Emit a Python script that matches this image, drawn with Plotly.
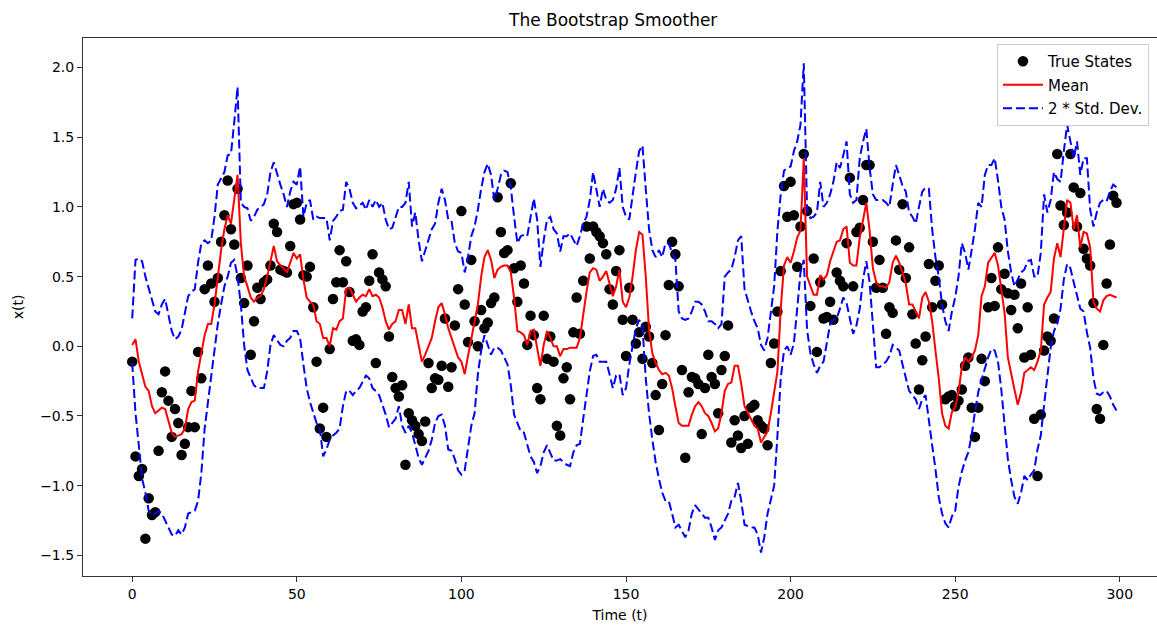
import plotly.graph_objects as go

# ---------------- data ----------------
time_steps = list(range(300))

true_states = [
    -0.11, -0.79, -0.93, -0.88, -1.38, -1.09, -1.21, -1.19, -0.75, -0.33,
    -0.18, -0.39, -0.65, -0.45, -0.55, -0.78, -0.70, -0.58, -0.32, -0.58,
    -0.04, -0.23, 0.41, 0.58, 0.45, 0.32, 0.49, 0.75, 0.94, 1.19,
    0.84, 0.73, 1.13, 0.49, 0.31, 0.58, -0.06, 0.18, 0.42, 0.34,
    0.46, 0.48, 0.58, 0.88, 0.82, 0.55, 0.54, 0.53, 0.72, 1.02,
    1.03, 0.91, 0.51, 0.50, 0.57, 0.28, -0.11, -0.59, -0.44, -0.65,
    -0.02, 0.34, 0.46, 0.69, 0.46, 0.61, 0.39, 0.04, 0.05, 0.01,
    0.25, 0.28, 0.47, 0.66, -0.12, 0.53, 0.48, 0.43, 0.07, -0.22,
    -0.30, -0.36, -0.28, -0.85, -0.48, -0.53, -0.57, -0.63, -0.68, -0.54,
    -0.12, -0.30, -0.23, -0.24, -0.14, 0.20, -0.29, -0.15, 0.15, 0.41,
    0.97, 0.30, 0.03, 0.62, 0.18, 0.00, 0.26, 0.13, 0.17, 0.31,
    0.35, 1.07, 0.82, 0.67, 0.69, 1.17, 0.56, 0.32, 0.58, 0.45,
    0.01, 0.22, 0.08, -0.30, -0.38, 0.22, -0.09, 0.07, -0.11, -0.57,
    -0.64, -0.23, -0.15, -0.38, 0.10, 0.35, 0.09, 0.47, 0.86, 0.63,
    0.86, 0.82, 0.79, 0.74, 0.66, 0.41, 0.30, 0.54, 0.69, 0.19,
    -0.07, 0.42, 0.19, 0.02, 0.10, -0.09, 0.14, 0.07, -0.12, -0.35,
    -0.60, -0.27, 0.08, 0.44, 0.75, 0.66, 0.43, -0.17, -0.80, -0.33,
    -0.22, -0.23, -0.27, -0.63, -0.30, -0.06, -0.22, -0.27, -0.48, -0.17,
    -0.07, 0.15, -0.69, -0.53, -0.64, -0.73, -0.50, -0.70, -0.44, -0.42,
    -0.53, -0.57, -0.59, -0.71, -0.12, 0.02, 0.25, 0.54, 1.15, 0.93,
    1.18, 0.94, 0.57, 0.86, 1.38, 0.97, 0.29, 0.63, -0.04, 0.46,
    0.20, 0.21, 0.32, 0.19, 0.53, 0.47, 0.43, 0.74, 1.21, 0.43,
    0.82, 0.85, 1.05, 1.30, 1.30, 0.75, 0.42, 0.62, 0.42, 0.09,
    0.28, 0.24, 0.76, 0.55, 1.02, 0.49, 0.71, 0.23, 0.02, -0.31,
    -0.10, 0.07, 0.59, 0.28, 0.47, 0.58, 0.30, -0.38, -0.36, -0.35,
    -0.43, -0.39, -0.31, -0.14, -0.08, -0.44, -0.65, -0.44, -0.09, -0.25,
    0.28, 0.49, 0.29, 0.71, 0.41, 0.52, 0.38, 0.26, 0.37, 0.13,
    0.45, -0.08, 0.28, -0.06, -0.52, -0.93, -0.49, -0.03, 0.07, 0.04,
    0.20, 1.38, 1.01, 0.87, 0.96, 1.38, 1.14, 0.86, 1.10, 0.70,
    0.63, 0.58, 0.31, -0.45, -0.52, 0.01, 0.45, 0.73, 1.08, 1.03,
]

mean_estimate = [
    0.01, 0.05, -0.11, -0.20, -0.29, -0.32, -0.43, -0.48, -0.46, -0.44,
    -0.45, -0.53, -0.62, -0.65, -0.64, -0.63, -0.59, -0.45, -0.40, -0.39,
    -0.18, -0.06, 0.08, 0.16, 0.16, 0.30, 0.50, 0.69, 0.84, 0.94,
    0.88, 1.07, 1.23, 0.74, 0.50, 0.43, 0.35, 0.32, 0.35, 0.36,
    0.41, 0.50, 0.60, 0.72, 0.61, 0.58, 0.56, 0.53, 0.60, 0.67,
    0.63, 0.66, 0.48, 0.35, 0.32, 0.30, 0.18, 0.16, 0.06, 0.06,
    0.00, 0.13, 0.12, 0.18, 0.20, 0.41, 0.42, 0.37, 0.32, 0.35,
    0.37, 0.36, 0.41, 0.36, 0.37, 0.35, 0.28, 0.18, 0.12, 0.16,
    0.18, 0.26, 0.26, 0.16, 0.30, 0.13, 0.13, 0.01, -0.11, -0.06,
    0.00, 0.06, 0.18, 0.28, 0.31, 0.23, 0.13, 0.06, 0.00, -0.08,
    -0.11, -0.20, -0.07, 0.06, 0.16, 0.30, 0.50, 0.64, 0.69, 0.62,
    0.49, 0.55, 0.57, 0.58, 0.58, 0.53, 0.35, 0.11, 0.10, 0.08,
    0.01, 0.11, 0.12, 0.00, -0.14, 0.01, 0.11, 0.06, 0.00, 0.00,
    -0.07, -0.02, -0.02, -0.01, -0.01, -0.01, 0.06, 0.23, 0.39, 0.53,
    0.56, 0.55, 0.47, 0.50, 0.54, 0.45, 0.36, 0.43, 0.55, 0.32,
    0.28, 0.35, 0.50, 0.69, 0.82, 0.80, 0.50, 0.12, -0.05, -0.12,
    -0.17, -0.20, -0.19, -0.21, -0.30, -0.43, -0.55, -0.57, -0.57, -0.57,
    -0.49, -0.43, -0.40, -0.43, -0.48, -0.50, -0.55, -0.61, -0.59, -0.48,
    -0.32, -0.27, -0.26, -0.14, -0.14, -0.27, -0.43, -0.48, -0.52, -0.57,
    -0.59, -0.69, -0.65, -0.61, -0.48, -0.33, -0.18, 0.27, 0.58, 0.64,
    0.60, 0.68, 0.78, 0.83, 1.35, 0.50, 0.44, 0.37, 0.37, 0.51,
    0.48, 0.51, 0.61, 0.68, 0.75, 0.76, 0.84, 0.86, 0.60, 0.58,
    0.58, 0.78, 0.91, 1.03, 0.83, 0.56, 0.46, 0.43, 0.43, 0.42,
    0.46, 0.60, 0.65, 0.60, 0.53, 0.45, 0.30, 0.30, 0.25, 0.20,
    0.35, 0.39, 0.32, 0.18, -0.03, -0.23, -0.48, -0.57, -0.59, -0.47,
    -0.44, -0.33, -0.15, -0.08, -0.11, -0.08, -0.03, 0.08, 0.36, 0.43,
    0.60, 0.64, 0.67, 0.58, 0.40, 0.24, -0.08, -0.21, -0.31, -0.42,
    -0.33, -0.19, -0.17, -0.15, -0.17, -0.11, -0.03, 0.30, 0.35, 0.39,
    0.63, 0.74, 0.64, 0.84, 1.05, 1.03, 0.84, 0.94, 0.71, 0.82,
    0.81, 0.71, 0.32, 0.27, 0.25, 0.33, 0.36, 0.37, 0.36, 0.35,
]

upper_band = [
    0.20, 0.62, 0.63, 0.61, 0.50, 0.41, 0.32, 0.25, 0.23, 0.30,
    0.34, 0.23, 0.11, 0.05, 0.07, 0.12, 0.25, 0.36, 0.39, 0.41,
    0.60, 0.74, 0.76, 0.74, 0.76, 0.93, 1.16, 1.20, 1.25, 1.37,
    1.38, 1.61, 1.86, 1.03, 1.00, 0.99, 0.90, 0.93, 0.98, 1.00,
    1.02, 1.09, 1.25, 1.32, 1.23, 1.16, 1.09, 1.00, 1.11, 1.18,
    1.16, 1.29, 0.93, 1.03, 1.05, 0.91, 0.93, 0.92, 0.92, 0.92,
    0.76, 0.90, 0.93, 0.97, 0.98, 1.18, 1.13, 1.03, 0.99, 1.01,
    1.03, 0.98, 1.05, 1.00, 1.05, 1.00, 1.03, 0.91, 0.84, 0.85,
    0.93, 1.00, 1.00, 1.03, 1.18, 0.86, 0.96, 0.76, 0.61, 0.69,
    0.76, 0.84, 0.88, 1.03, 1.13, 1.05, 0.91, 0.90, 0.74, 0.68,
    0.67, 0.53, 0.64, 0.79, 0.86, 0.98, 1.13, 1.25, 1.31, 1.23,
    1.05, 1.13, 1.23, 1.26, 1.25, 1.14, 0.93, 0.74, 0.79, 0.80,
    0.79, 0.93, 1.06, 0.91, 0.57, 0.76, 0.91, 0.93, 0.84, 0.81,
    0.68, 0.79, 0.79, 0.81, 0.76, 0.72, 0.79, 0.88, 0.93, 1.05,
    1.25, 1.13, 1.00, 1.13, 1.05, 1.03, 1.05, 1.13, 1.28, 1.00,
    0.93, 0.91, 1.09, 1.25, 1.40, 1.44, 1.13, 0.84, 0.69, 0.64,
    0.69, 0.64, 0.74, 0.74, 0.67, 0.62, 0.25, 0.20, 0.19, 0.20,
    0.25, 0.32, 0.32, 0.30, 0.25, 0.18, 0.18, 0.16, 0.13, 0.16,
    0.50, 0.53, 0.55, 0.64, 0.76, 0.79, 0.41, 0.32, 0.25, 0.18,
    0.13, 0.01, -0.03, 0.06, 0.25, 0.43, 0.83, 1.09, 1.26, 1.28,
    1.29, 1.40, 1.47, 1.59, 2.03, 0.98, 0.92, 0.93, 0.96, 1.18,
    1.00, 1.03, 1.09, 1.18, 1.32, 1.28, 1.37, 1.47, 1.09, 1.03,
    1.05, 1.35, 1.47, 1.56, 1.28, 1.09, 1.05, 1.05, 1.05, 1.03,
    1.00, 1.16, 1.30, 1.23, 1.15, 1.11, 0.96, 0.93, 0.88, 1.00,
    1.11, 1.14, 1.13, 0.84, 0.64, 0.50, 0.30, 0.18, 0.11, 0.25,
    0.35, 0.50, 0.74, 0.67, 0.55, 0.69, 0.84, 1.03, 1.00, 1.23,
    1.30, 1.30, 1.35, 1.19, 1.00, 0.91, 0.68, 0.53, 0.43, 0.48,
    0.53, 0.55, 0.61, 0.62, 0.50, 0.50, 0.67, 1.09, 0.96, 1.05,
    1.25, 1.20, 1.18, 1.40, 1.59, 1.47, 1.35, 1.47, 1.23, 1.35,
    1.35, 0.98, 0.86, 0.96, 1.03, 1.05, 1.04, 1.11, 1.16, 1.14,
]

lower_band = [
    -0.12, -0.48, -0.71, -0.95, -1.05, -1.18, -1.21, -1.20, -1.18, -1.20,
    -1.25, -1.30, -1.35, -1.36, -1.32, -1.35, -1.30, -1.20, -1.19, -1.18,
    -1.11, -0.91, -0.59, -0.40, -0.20, -0.01, 0.16, 0.30, 0.43, 0.50,
    0.60, 0.62, 0.50, 0.30, 0.01, -0.17, -0.22, -0.28, -0.30, -0.30,
    -0.30, -0.18, 0.01, 0.08, 0.04, 0.01, 0.00, 0.04, 0.06, 0.11,
    0.11, 0.06, -0.13, -0.30, -0.40, -0.48, -0.55, -0.59, -0.79, -0.74,
    -0.67, -0.64, -0.62, -0.59, -0.43, -0.32, -0.32, -0.35, -0.32, -0.30,
    -0.25, -0.21, -0.23, -0.30, -0.32, -0.35, -0.42, -0.49, -0.58, -0.55,
    -0.52, -0.43, -0.57, -0.62, -0.57, -0.62, -0.71, -0.80, -0.85, -0.80,
    -0.75, -0.67, -0.55, -0.50, -0.49, -0.57, -0.74, -0.75, -0.81, -0.89,
    -0.92, -0.89, -0.71, -0.57, -0.48, -0.20, -0.03, 0.08, 0.01, -0.06,
    -0.01, -0.01, -0.03, -0.08, -0.13, -0.28, -0.49, -0.55, -0.61, -0.62,
    -0.71, -0.79, -0.83, -0.91, -0.86, -0.76, -0.71, -0.77, -0.82, -0.82,
    -0.81, -0.83, -0.85, -0.86, -0.76, -0.71, -0.70, -0.52, -0.35, -0.18,
    -0.07, -0.06, -0.11, -0.11, -0.11, -0.20, -0.30, -0.21, -0.20, -0.35,
    -0.30, -0.13, 0.01, 0.13, 0.19, 0.14, -0.23, -0.48, -0.67, -0.83,
    -0.95, -1.05, -1.11, -1.11, -1.20, -1.30, -1.28, -1.32, -1.37, -1.32,
    -1.20, -1.14, -1.17, -1.20, -1.23, -1.23, -1.30, -1.39, -1.32, -1.30,
    -1.25, -1.20, -1.11, -1.08, -0.98, -1.11, -1.28, -1.29, -1.30, -1.30,
    -1.35, -1.48, -1.37, -1.20, -1.10, -1.00, -0.64, -0.23, -0.03, 0.00,
    -0.06, 0.02, 0.27, 0.53, 0.62, 0.12, -0.05, -0.13, -0.19, -0.14,
    -0.11, 0.04, 0.16, 0.19, 0.20, 0.27, 0.35, 0.31, 0.20, 0.09,
    0.15, 0.27, 0.48, 0.61, 0.46, 0.12, -0.15, -0.15, -0.13, -0.11,
    -0.07, 0.01, -0.01, -0.03, -0.13, -0.23, -0.32, -0.35, -0.38, -0.45,
    -0.38, -0.35, -0.55, -0.71, -0.88, -1.08, -1.20, -1.27, -1.30, -1.22,
    -1.18, -1.01, -0.90, -0.82, -0.76, -0.64, -0.47, -0.33, -0.24, -0.15,
    -0.08, -0.02, -0.03, -0.11, -0.31, -0.56, -0.81, -0.96, -1.08, -1.13,
    -1.05, -0.93, -0.96, -0.92, -0.89, -0.74, -0.64, -0.42, -0.21, -0.01,
    0.11, 0.16, 0.27, 0.48, 0.59, 0.56, 0.46, 0.37, 0.27, 0.25,
    0.10, -0.01, -0.23, -0.34, -0.35, -0.33, -0.32, -0.36, -0.42, -0.46,
]

x_tick_values = [0, 50, 100, 150, 200, 250, 300]
y_tick_values = [-1.5, -1.0, -0.5, 0.0, 0.5, 1.0, 1.5, 2.0]
y_tick_labels = ["\u22121.5", "\u22121.0", "\u22120.5", "0.0", "0.5", "1.0", "1.5", "2.0"]

# ---------------- figure ----------------
FONT = "DejaVu Sans"
fig = go.Figure()

fig.add_trace(go.Scatter(
    x=time_steps, y=true_states, mode="markers", name="True States",
    marker=dict(color="black", size=10.5, line=dict(width=0)),
))
fig.add_trace(go.Scatter(
    x=time_steps, y=mean_estimate, mode="lines", name="Mean",
    line=dict(color="#ff0000", width=2),
))
fig.add_trace(go.Scatter(
    x=time_steps, y=upper_band, mode="lines", name="2 * Std. Dev.",
    legendgroup="std", line=dict(color="#0000ff", width=2, dash="9px,4px"),
))
fig.add_trace(go.Scatter(
    x=time_steps, y=lower_band, mode="lines", name="2 * Std. Dev.",
    legendgroup="std", showlegend=False,
    line=dict(color="#0000ff", width=2, dash="9px,4px"),
))

axis_common = dict(
    showgrid=False, zeroline=False, showline=True, linecolor="#333333",
    linewidth=1.1, ticks="outside", ticklen=5, tickwidth=1.1, tickcolor="#333333",
    tickfont=dict(family=FONT, size=14, color="black"),
)

fig.update_layout(
    width=1157, height=626,
    margin=dict(l=83, r=0, t=38, b=50),
    paper_bgcolor="white", plot_bgcolor="white",
    font=dict(family=FONT, color="black"),
    title=dict(
        text="The Bootstrap Smoother", font=dict(family=FONT, size=17, color="black"),
        x=0.53, xref="container", xanchor="center",
        y=1 - 20 / 626, yref="container", yanchor="middle",
    ),
    xaxis=dict(
        **axis_common, range=[-14.95, 311.3], tickvals=x_tick_values,
        mirror=True,
        title=dict(text="Time (t)", font=dict(family=FONT, size=14, color="black"), standoff=9),
    ),
    yaxis=dict(
        **axis_common, range=[-1.648, 2.212], tickvals=y_tick_values,
        ticktext=y_tick_labels, mirror=False,
        title=dict(text="x(t)", font=dict(family=FONT, size=14, color="black"), standoff=13),
    ),
    legend=dict(
        x=0.851, xanchor="left", y=0.989, yanchor="top",
        bgcolor="rgba(255,255,255,0.8)", bordercolor="#cccccc", borderwidth=1,
        font=dict(family=FONT, size=15, color="black"),
        itemwidth=40, tracegroupgap=1,
    ),
    showlegend=True,
)

fig.write_html("out.html")
